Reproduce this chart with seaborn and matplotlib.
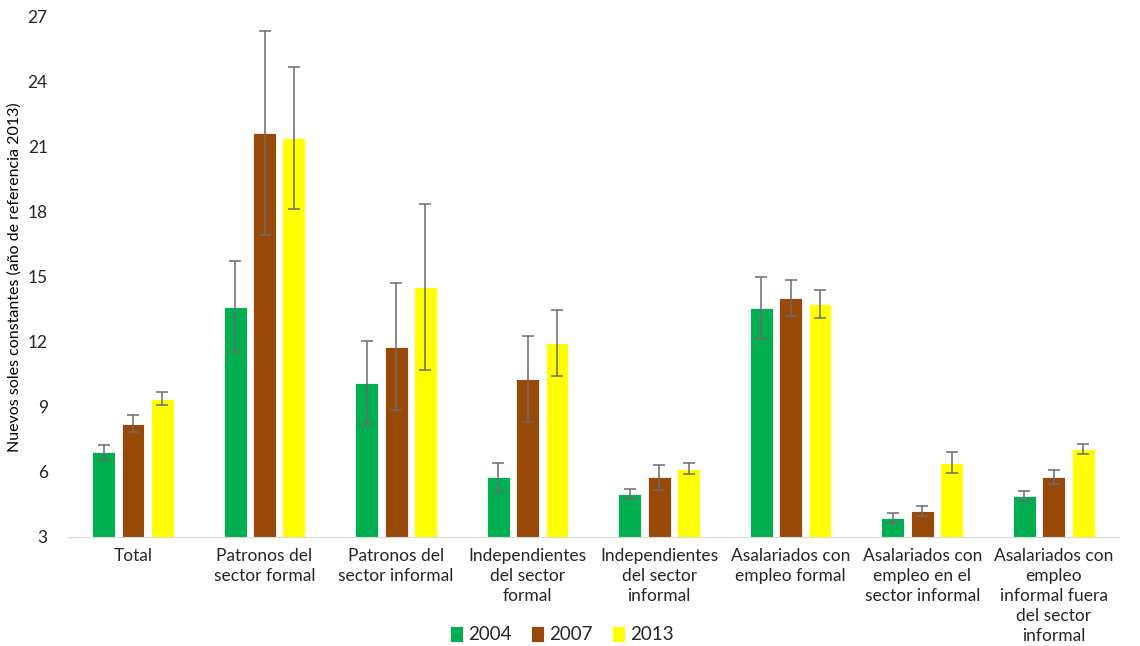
import seaborn as sns
import matplotlib.pyplot as plt
import pandas as pd
import numpy as np

# -------------------------------
# 1. Data
# -------------------------------
categories = [
    "Total",
    "Patronos del\nsector formal",
    "Patronos del\nsector informal",
    "Independientes\ndel sector\nformal",
    "Independientes\ndel sector\ninformal",
    "Asalariados con\nempleo formal",
    "Asalariados con\nempleo en el\nsector informal",
    "Asalariados con\nempleo\ninformal fuera\ndel sector\ninformal",
]
years = ["2004", "2007", "2013"]

values_2004 = [6.91, 13.61, 10.11, 5.74, 4.98, 13.57, 3.86, 4.88]
values_2007 = [8.23, 21.63, 11.78, 10.28, 5.74, 14.01, 4.19, 5.77]
values_2013 = [9.37, 21.40, 14.52, 11.94, 6.15, 13.74, 6.43, 7.05]

err_2004 = [0.35, 2.10, 1.93, 0.69, 0.25, 1.42, 0.23, 0.24]
err_2007 = [0.40, 4.70, 2.93, 2.00, 0.57, 0.84, 0.25, 0.32]
err_2013 = [0.30, 3.26, 3.84, 1.52, 0.26, 0.63, 0.47, 0.23]

colors = ["#00B050", "#984807", "#FFFF00"]

df = pd.DataFrame({
    "Categoria": categories * 3,
    "Año": np.repeat(years, len(categories)),
    "Valor": values_2004 + values_2007 + values_2013,
    "Error": err_2004 + err_2007 + err_2013,
})

# -------------------------------
# 2. Styling
# -------------------------------
sns.set_style("white")
plt.rcParams["font.family"] = ["Lato", "DejaVu Sans"]

fig, ax = plt.subplots(figsize=(11.4, 6.46), dpi=100)
fig.subplots_adjust(left=0.059, right=0.982, top=0.974, bottom=0.169)

sns.barplot(
    data=df, x="Categoria", y="Valor", hue="Año",
    palette=colors, saturation=1, width=0.67, gap=0.22,
    edgecolor="white", linewidth=0.6,
    errorbar=None, ax=ax,
)

# error bars on top of each bar (order of patches follows hue then category)
bars = [p for p in ax.patches if p.get_height() > 0][:len(df)]
for bar, err in zip(bars, df["Error"]):
    xc = bar.get_x() + bar.get_width() / 2
    ax.errorbar(xc, bar.get_height(), yerr=err, color="#6b6b6b",
                capsize=4, elinewidth=1.1, capthick=1.1, zorder=5)

ax.set_ylim(3, 27)
ax.set_yticks(np.arange(3, 28, 3))
ax.set_xlim(-0.5, len(categories) - 0.5)
ax.set_xlabel("")
ax.set_ylabel("Nuevos soles constantes (año de referencia 2013)",
              fontsize=11.5, color="#000000")
ax.tick_params(axis="y", labelsize=12.5, colors="#262626", length=0, pad=14)
ax.tick_params(axis="x", labelsize=12.5, colors="#262626", length=0, pad=8)
ax.set_xticks(range(len(categories)))
ax.set_xticklabels(categories, linespacing=1.3)

sns.despine(ax=ax, left=True)
ax.spines["bottom"].set_color("#D9D9D9")

ax.legend(title=None, loc="upper center", bbox_to_anchor=(0.47, -0.15),
          ncol=3, frameon=False, fontsize=13.5, handlelength=0.7,
          handleheight=0.9, columnspacing=1.0, handletextpad=0.3,
          borderpad=0.1)

plt.savefig("out.png", dpi=100)
plt.close()
